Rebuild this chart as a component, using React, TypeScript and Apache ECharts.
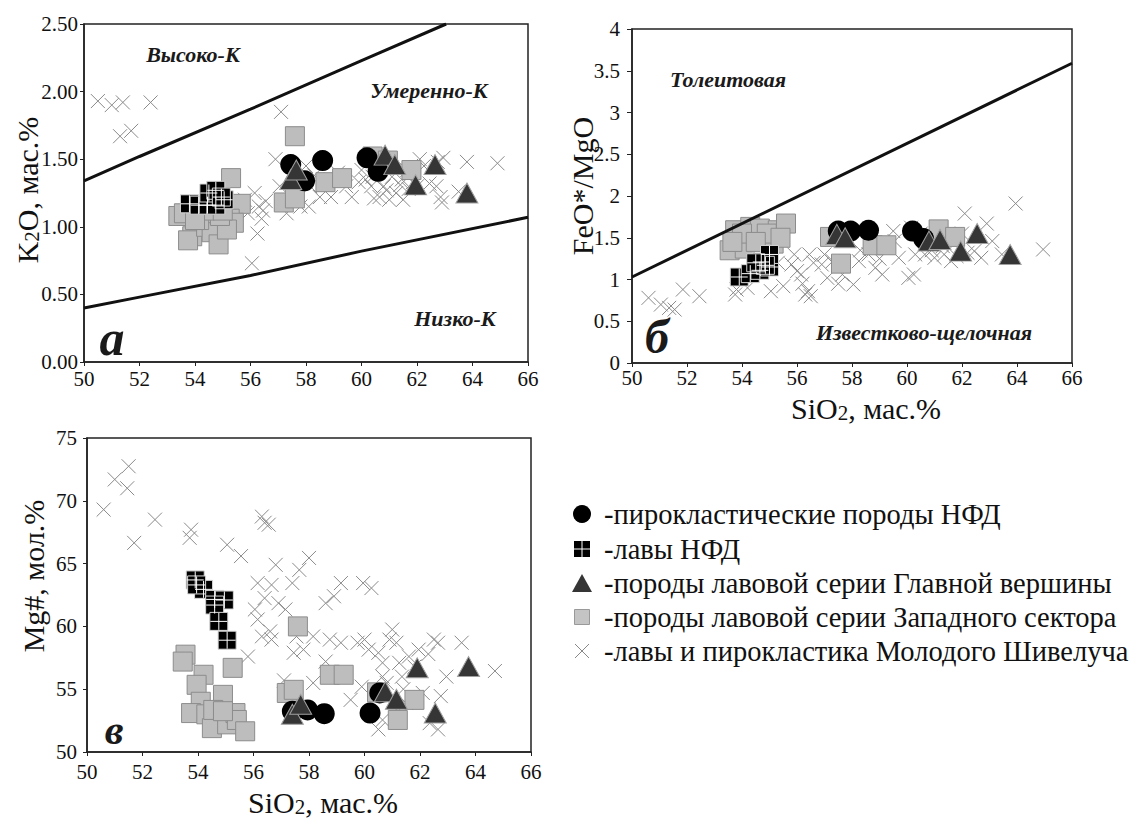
import React, { useEffect, useRef } from "react";
import * as echarts from "echarts";

const FONT = "Liberation Serif";

// ---------- axis ticks ----------
const SIO2_MIN = 50;
const SIO2_MAX = 66;
const SIO2_STEP = 2;
const K2O_TICKS = [0, 2.5, 0.5];
const FEMG_TICKS = [0, 4, 0.5];
const MG_TICKS = [50, 75, 5];

// ---------- boundary lines ----------
const A_LINE_HIGH = [[50, 1.34], [52, 1.52], [56, 1.87], [60, 2.23], [63.05, 2.5]];
const A_LINE_LOW = [[50, 0.4], [52, 0.48], [56, 0.64], [60, 0.82], [66, 1.07]];
const B_LINE = [[50, 1.03], [66, 3.59]];

// ---------- panel а : SiO2 vs K2O ----------
const A_PYRO = [[57.45, 1.46], [57.95, 1.34], [58.6, 1.49], [60.2, 1.51], [60.6, 1.41]];
const A_LAVA = [[53.8, 1.17], [54.15, 1.16], [54.45, 1.16], [54.75, 1.16], [55.05, 1.2], [54.5, 1.25], [54.75, 1.27], [54.95, 1.22]];
const A_MAIN = [[57.45, 1.35], [57.65, 1.42], [60.85, 1.53], [61.2, 1.46], [61.95, 1.31], [62.65, 1.46], [63.8, 1.25]];
const A_WEST = [[55.3, 1.36], [55.65, 1.17], [55.25, 1.06], [55.4, 1.03], [53.4, 1.08], [53.6, 1.1], [53.9, 0.93], [53.75, 0.9],
  [54.4, 1.0], [54.6, 0.96], [54.85, 0.87], [55.15, 0.98], [54.15, 1.05], [54.9, 1.08], [54.7, 1.14], [54.35, 1.12],
  [57.6, 1.67], [57.2, 1.18], [57.6, 1.21], [58.7, 1.33], [59.3, 1.36], [60.4, 1.52], [60.95, 1.49], [61.8, 1.42], [54.0, 1.05], [55.0, 1.12]];
const A_YOUNG = [[50.5, 1.93], [51.0, 1.9], [51.4, 1.92], [52.4, 1.92], [51.3, 1.67], [51.7, 1.71], [57.1, 1.85], [56.15, 1.25],
  [56.4, 1.06], [56.45, 1.12], [56.25, 0.95], [56.05, 0.73], [56.55, 1.19], [56.9, 1.5], [57.05, 1.3], [57.3, 1.1], [57.8, 1.15],
  [58.1, 1.15], [58.15, 1.3], [58.0, 1.45], [58.5, 1.22], [58.9, 1.35], [58.9, 1.22], [59.65, 1.22], [59.9, 1.33], [60.35, 1.3],
  [60.65, 1.22], [60.9, 1.27], [61.25, 1.25], [61.45, 1.35], [61.65, 1.42], [62.0, 1.3], [62.25, 1.45], [62.7, 1.3], [62.85, 1.22],
  [62.95, 1.51], [62.75, 1.48], [63.5, 1.26], [63.8, 1.48], [64.9, 1.47], [59.45, 1.3], [60.15, 1.35], [60.4, 1.37], [61.1, 1.37],
  [61.4, 1.31], [61.85, 1.33], [62.45, 1.32], [59.15, 1.4], [60.0, 1.42], [60.65, 1.43], [62.1, 1.5], [61.5, 1.2], [61.0, 1.2],
  [60.45, 1.21], [55.8, 1.2], [56.3, 1.15], [57.5, 1.25], [58.3, 1.38], [60.8, 1.3], [61.7, 1.28], [62.9, 1.18], [55.9, 1.1]];

// ---------- panel б : SiO2 vs FeO*/MgO ----------
const B_PYRO = [[57.5, 1.58], [57.95, 1.58], [58.6, 1.59], [60.2, 1.58], [60.6, 1.49]];
const B_LAVA = [[53.9, 1.03], [54.3, 1.07], [54.65, 1.11], [55.0, 1.15], [54.7, 1.21], [55.0, 1.3], [54.85, 1.17], [54.5, 1.2]];
const B_MAIN = [[57.45, 1.54], [57.75, 1.5], [60.8, 1.46], [61.2, 1.48], [61.95, 1.34], [62.55, 1.55], [63.75, 1.3]];
const B_WEST = [[53.75, 1.59], [54.3, 1.63], [54.65, 1.61], [55.3, 1.59], [55.6, 1.67], [53.55, 1.35], [54.1, 1.37], [55.15, 1.43],
  [54.0, 1.55], [54.9, 1.55], [54.5, 1.45], [53.65, 1.45], [55.4, 1.5], [57.2, 1.51], [57.6, 1.19], [58.75, 1.41], [59.25, 1.41],
  [61.15, 1.6], [61.75, 1.51]];
const B_YOUNG = [[50.6, 0.78], [51.05, 0.7], [51.35, 0.66], [51.55, 0.64], [51.85, 0.88], [52.45, 0.8], [53.75, 0.82], [53.8, 0.88],
  [55.05, 0.86], [55.5, 0.92], [55.8, 1.18], [55.9, 1.3], [56.15, 1.06], [56.3, 0.82], [56.4, 0.86], [56.5, 0.8], [56.45, 1.3],
  [56.9, 1.18], [57.1, 1.02], [57.3, 1.22], [57.65, 1.06], [58.05, 0.94], [58.25, 1.22], [58.6, 1.3], [58.85, 1.14], [59.1, 1.06],
  [59.55, 1.46], [59.7, 1.26], [60.05, 1.02], [60.25, 1.06], [60.5, 1.55], [60.65, 1.3], [61.0, 1.26], [61.35, 1.3], [61.6, 1.22],
  [62.0, 1.55], [62.1, 1.79], [62.45, 1.34], [62.7, 1.26], [62.9, 1.67], [63.1, 1.46], [63.45, 1.3], [63.95, 1.91], [64.95, 1.36],
  [60.15, 1.62], [59.5, 1.58], [56.0, 1.1], [56.6, 1.2], [57.0, 1.3], [58.3, 1.35], [59.0, 1.25], [60.9, 1.35], [61.3, 1.4],
  [61.8, 1.28], [62.2, 1.32], [60.3, 1.3], [56.2, 0.95], [55.3, 1.2], [54.2, 0.9], [57.5, 0.95]];

// ---------- panel в : SiO2 vs Mg# ----------
const C_PYRO = [[57.4, 53.25], [57.95, 53.35], [58.55, 53.05], [60.2, 53.1], [60.55, 54.7]];
const C_LAVA = [[53.9, 63.7], [54.2, 62.95], [54.6, 62.15], [54.95, 62.1], [54.6, 61.7], [54.75, 60.4], [55.05, 58.9], [53.95, 63.3]];
const C_MAIN = [[57.4, 53.0], [57.7, 53.8], [60.75, 54.8], [61.15, 54.2], [61.9, 56.7], [62.55, 53.1], [63.75, 56.8]];
const C_WEST = [[53.55, 57.75], [53.45, 57.2], [54.2, 56.15], [53.95, 55.35], [54.9, 54.55], [55.25, 56.7], [54.1, 54.0], [53.75, 53.1],
  [54.3, 53.0], [54.6, 52.7], [54.5, 51.9], [55.05, 52.2], [55.35, 53.1], [55.4, 52.55], [55.7, 51.65], [54.55, 53.35], [54.9, 53.25],
  [57.6, 60.0], [57.2, 54.7], [57.45, 54.95], [58.75, 56.15], [59.25, 56.15], [60.45, 54.75], [61.2, 52.55], [61.8, 54.15]];
const C_YOUNG = [[50.6, 69.3], [51.0, 71.7], [51.45, 71.0], [51.5, 72.75], [51.7, 66.65], [52.45, 68.5], [53.75, 67.7], [53.7, 67.05],
  [55.05, 66.5], [55.55, 65.6], [56.3, 68.75], [56.4, 68.25], [56.55, 68.1], [56.15, 63.45], [56.4, 62.25], [56.05, 61.35],
  [56.15, 60.55], [55.8, 57.6], [56.65, 63.3], [56.8, 64.9], [56.9, 61.85], [56.6, 59.6], [56.65, 58.95], [57.4, 63.45],
  [57.15, 61.35], [57.65, 64.5], [58.0, 65.45], [57.55, 59.2], [57.8, 58.15], [58.15, 59.2], [58.6, 61.85], [58.9, 62.4],
  [59.15, 63.45], [58.75, 58.95], [59.15, 58.7], [59.95, 63.45], [60.25, 63.05], [59.75, 58.7], [60.15, 58.15], [59.25, 56.0],
  [59.5, 54.15], [60.5, 57.9], [60.65, 57.1], [60.9, 58.95], [61.15, 58.7], [61.25, 57.1], [61.35, 56.0], [61.6, 57.6],
  [61.95, 58.15], [62.5, 58.95], [62.65, 58.7], [63.5, 58.7], [64.7, 56.45], [60.5, 51.8], [60.65, 52.55], [62.35, 52.3],
  [62.65, 51.8], [62.1, 54.7], [62.75, 54.45], [62.95, 56.0], [58.15, 55.5], [57.45, 57.9], [59.9, 55.2], [60.65, 56.0],
  [61.0, 59.75], [60.0, 58.95], [61.5, 53.9], [61.15, 53.35], [56.3, 59.2], [57.1, 55.7], [58.6, 57.2], [60.8, 55.5],
  [61.4, 55.0], [61.8, 56.8], [62.3, 57.8]];

// ---------- legend ----------
const LEGEND_LABELS = [
  "-пирокластические породы НФД",
  "-лавы НФД",
  "-породы лавовой серии Главной вершины",
  "-породы лавовой серии Западного сектора",
  "-лавы и пирокластика Молодого Шивелуча",
];

const CROSS_PATH = "path://M0,0L10,10M10,0L0,10";
const PLUS_PATH = "path://M10,0L10,20M0,10L20,10";

const STYLES: Record<string, any> = {
  young: { symbol: CROSS_PATH, symbolSize: 14, itemStyle: { color: "transparent", borderColor: "#8a8a8a", borderWidth: 1, opacity: 1 } },
  west: { symbol: "rect", symbolSize: 19, itemStyle: { color: "#bdbdbd", borderColor: "#8c8c8c", borderWidth: 1, opacity: 1 } },
  lava: { symbol: "rect", symbolSize: 18, itemStyle: { color: "#000", borderColor: "#d8d8d8", borderWidth: 1, opacity: 1 } },
  lavaCross: { symbol: PLUS_PATH, symbolSize: 17, itemStyle: { color: "transparent", borderColor: "#ffffff", borderWidth: 1, opacity: 1 } },
  pyro: { symbol: "circle", symbolSize: 21, itemStyle: { color: "#000", opacity: 1 } },
  main: { symbol: "triangle", symbolSize: [22, 20], itemStyle: { color: "#353535", borderColor: "#a0a0a0", borderWidth: 1, opacity: 1 } },
};

function scatter(name: string, key: string, grid: number, data: number[][]) {
  const s = STYLES[key];
  return {
    name,
    type: "scatter",
    xAxisIndex: grid,
    yAxisIndex: grid,
    data,
    symbol: s.symbol,
    symbolSize: s.symbolSize,
    itemStyle: s.itemStyle,
    silent: true,
  };
}

function boundary(grid: number, data: number[][]) {
  return {
    type: "line",
    xAxisIndex: grid,
    yAxisIndex: grid,
    data,
    symbol: "none",
    silent: true,
    z: 5,
    lineStyle: { color: "#111", width: 3 },
  };
}

const TICK_RICH = { t: { fontSize: 21, fontFamily: FONT, color: "#111" } };

function xAxis(grid: number, margin: number) {
  return {
    type: "value",
    gridIndex: grid,
    min: SIO2_MIN,
    max: SIO2_MAX,
    interval: SIO2_STEP,
    axisLine: { show: true, onZero: false, lineStyle: { color: "#222", width: 1.5 } },
    axisTick: { show: true, length: 4, lineStyle: { color: "#222", width: 1 } },
    axisLabel: { margin, formatter: (v: number) => `{t|${v}}`, rich: TICK_RICH },
    splitLine: { show: false },
  };
}

function yAxis(grid: number, t: number[], margin: number, tick: number, digits?: number) {
  return {
    type: "value",
    gridIndex: grid,
    min: t[0],
    max: t[1],
    interval: t[2],
    axisLine: { show: true, onZero: false, lineStyle: { color: "#222", width: 1.5 } },
    axisTick: { show: true, length: tick, lineStyle: { color: "#222", width: 1 } },
    axisLabel: {
      margin,
      formatter: (v: number) => `{t|${digits != null ? v.toFixed(digits) : String(v)}}`,
      rich: TICK_RICH,
    },
    splitLine: { show: false },
  };
}

function richText(text: string, x: number, y: number, tok: any, align = "center", rotation = 0) {
  return {
    type: "text",
    x,
    y,
    rotation,
    silent: true,
    style: {
      text: `{t|${text}}`,
      align,
      verticalAlign: "middle",
      rich: { t: { fontFamily: FONT, fill: "#111", ...tok } },
    },
  };
}

function region(text: string, x: number, y: number, size: number) {
  return richText(text, x, y, { fontSize: size, fontStyle: "italic", fontWeight: "bold", fill: "#1a1a1a" });
}

function subName(parts: string[], x: number, y: number, rotate: boolean) {
  const text = `{a|${parts[0]}}{s|2}{a|${parts[1]}}`;
  return {
    type: "text",
    x,
    y,
    rotation: rotate ? Math.PI / 2 : 0,
    silent: true,
    style: {
      text,
      align: "center",
      verticalAlign: "middle",
      rich: {
        a: { fontSize: 30, fontFamily: FONT, fill: "#111", verticalAlign: "bottom" },
        s: { fontSize: 21, fontFamily: FONT, fill: "#111", verticalAlign: "bottom" },
      },
    },
  };
}

const LEG_X = 582;
const LEG_ROWS = [514, 549, 583, 617, 651];

function legendGraphics() {
  const els: any[] = [];
  const [r0, r1, r2, r3, r4] = LEG_ROWS;
  els.push({ type: "circle", shape: { cx: LEG_X, cy: r0, r: 9 }, style: { fill: "#000" } });
  els.push({ type: "rect", shape: { x: LEG_X - 8, y: r1 - 8, width: 16, height: 16 }, style: { fill: "#000" } });
  els.push({ type: "line", shape: { x1: LEG_X, y1: r1 - 8, x2: LEG_X, y2: r1 + 8 }, style: { stroke: "#fff", lineWidth: 1 } });
  els.push({ type: "line", shape: { x1: LEG_X - 8, y1: r1, x2: LEG_X + 8, y2: r1 }, style: { stroke: "#fff", lineWidth: 1 } });
  els.push({ type: "polygon", shape: { points: [[LEG_X, r2 - 9], [LEG_X - 10, r2 + 9], [LEG_X + 10, r2 + 9]] }, style: { fill: "#353535" } });
  els.push({ type: "rect", shape: { x: LEG_X - 7.5, y: r3 - 7.5, width: 15, height: 15 }, style: { fill: "#c4c4c4", stroke: "#999", lineWidth: 1 } });
  els.push({ type: "line", shape: { x1: LEG_X - 7, y1: r4 - 7, x2: LEG_X + 7, y2: r4 + 7 }, style: { stroke: "#888", lineWidth: 1 } });
  els.push({ type: "line", shape: { x1: LEG_X - 7, y1: r4 + 7, x2: LEG_X + 7, y2: r4 - 7 }, style: { stroke: "#888", lineWidth: 1 } });
  LEGEND_LABELS.forEach((t, i) => {
    els.push(richText(t, 604, LEG_ROWS[i], { fontSize: 28.5 }, "left"));
  });
  return els;
}

export default function App() {
  const ref = useRef<HTMLDivElement>(null);

  useEffect(() => {
    document.body.style.margin = "0";
    const chart = echarts.init(ref.current!, undefined, { renderer: "svg" });
    const gridBase = { show: true, borderColor: "#222", borderWidth: 1.5, backgroundColor: "transparent", containLabel: false };
    const series: any[] = [];
    const panels = [
      [A_YOUNG, A_WEST, A_LAVA, A_LAVA, A_PYRO, A_MAIN],
      [B_YOUNG, B_WEST, B_LAVA, B_LAVA, B_PYRO, B_MAIN],
      [C_YOUNG, C_WEST, C_LAVA, C_LAVA, C_PYRO, C_MAIN],
    ];
    const keys = ["young", "west", "lava", "lavaCross", "pyro", "main"];
    const names = [LEGEND_LABELS[4], LEGEND_LABELS[3], LEGEND_LABELS[1], LEGEND_LABELS[1], LEGEND_LABELS[0], LEGEND_LABELS[2]];
    panels.forEach((p, g) => {
      p.forEach((d, i) => series.push(scatter(names[i], keys[i], g, d)));
    });
    series.push(boundary(0, A_LINE_HIGH));
    series.push(boundary(0, A_LINE_LOW));
    series.push(boundary(1, B_LINE));

    chart.setOption({
      animation: false,
      textStyle: { fontFamily: FONT },
      grid: [
        { ...gridBase, left: 84, top: 24, width: 444, height: 338 },
        { ...gridBase, left: 632, top: 29, width: 440, height: 334 },
        { ...gridBase, left: 87, top: 438, width: 444, height: 314 },
      ],
      xAxis: [xAxis(0, 6), xAxis(1, 4), xAxis(2, 9)],
      yAxis: [
        yAxis(0, K2O_TICKS, 6, 4, 2),
        yAxis(1, FEMG_TICKS, 12, 5),
        yAxis(2, MG_TICKS, 10, 4),
      ],
      series,
      graphic: [
        region("Высоко-К", 193, 54, 22),
        region("Умеренно-К", 429, 90, 22),
        region("Низко-К", 455, 318, 22),
        region("а", 112, 338, 50),
        region("Толеитовая", 728, 79, 22),
        region("Известково-щелочная", 924, 332, 22),
        region("б", 657, 336, 48),
        region("в", 114, 730, 42),
        subName(["K", "O, мас.%"], 27, 190, true),
        richText("FeO*/MgO", 582, 186, { fontSize: 30 }, "center", Math.PI / 2),
        richText("Mg#, мол.%", 33, 576, { fontSize: 30 }, "center", Math.PI / 2),
        subName(["SiO", ", мас.%"], 866, 408, false),
        subName(["SiO", ", мас.%"], 323, 802, false),
        ...legendGraphics(),
      ],
    });
    return () => chart.dispose();
  }, []);

  return <div ref={ref} style={{ position: "absolute", left: 0, top: 0, width: 1131, height: 819 }} />;
}
